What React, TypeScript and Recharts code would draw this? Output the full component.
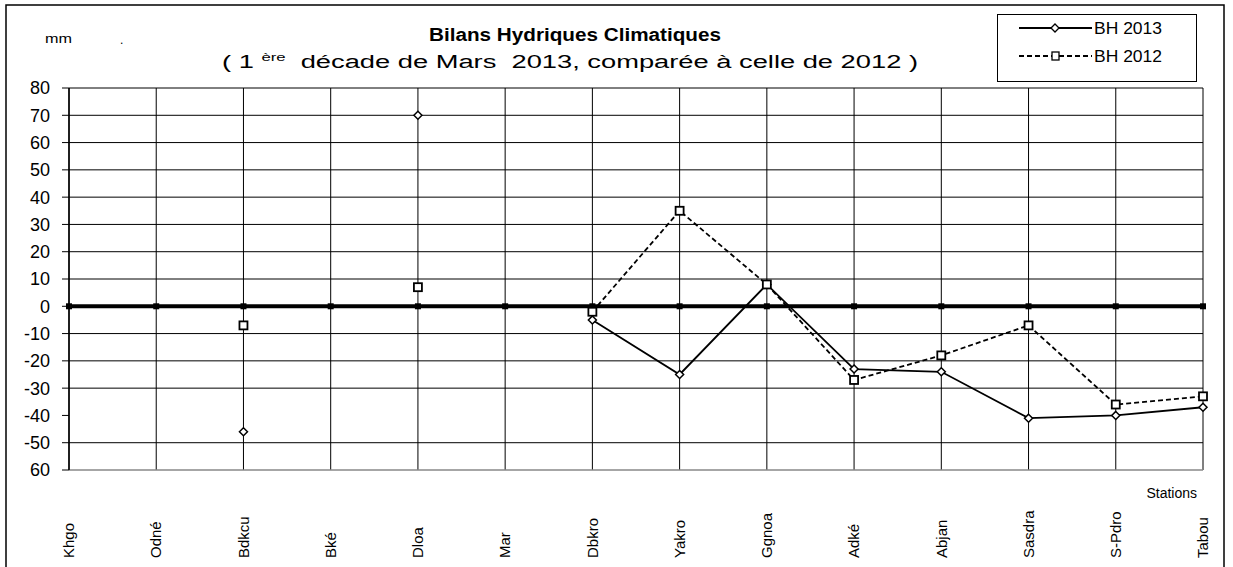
import React from "react";
import {
  LineChart,
  Line,
  XAxis,
  YAxis,
  CartesianGrid,
  Legend,
} from "recharts";

// stations (as printed on the chart)
const stations = [
  "Khgo", "Odné", "Bdkcu", "Bké", "Dloa", "Mar", "Dbkro",
  "Yakro", "Ggnoa", "Adké", "Abjan", "Sasdra", "S-Pdro", "Tabou",
];
// water balance, mm
const bh2013 = [null, null, -46, null, 70, null, -5, -25, 8, -23, -24, -41, -40, -37];
const bh2012 = [null, null, -7, null, 7, null, -2, 35, 8, -27, -18, -7, -36, -33];
const zeroLine = [0, 0, 0, 0, 0, 0, 0, 0, 0, 0, 0, 0, 0, 0];

const yTicks = [80, 70, 60, 50, 40, 30, 20, 10, 0, -10, -20, -30, -40, -50, -60];
const gridValues = [80, 70, 60, 50, 40, 30, 20, 10, -10, -20, -30, -50];

const data = stations.map((name, i) => ({
  name,
  bh2013: bh2013[i],
  bh2012: bh2012[i],
  zero: zeroLine[i],
}));

const FONT = "'Liberation Sans', Arial, sans-serif";

const diamondDot = (p: any) => {
  const { cx, cy, index, value } = p;
  if (value == null || cy == null) return <g key={index} />;
  return (
    <polygon
      key={index}
      points={`${cx},${cy - 4} ${cx + 4},${cy} ${cx},${cy + 4} ${cx - 4},${cy}`}
      fill="#fff"
      stroke="#000"
      strokeWidth={1.5}
    />
  );
};

const squareDot = (p: any) => {
  const { cx, cy, index, value } = p;
  if (value == null || cy == null) return <g key={index} />;
  return (
    <rect key={index} x={cx - 4} y={cy - 4} width={8} height={8} fill="#fff" stroke="#000" strokeWidth={1.8} />
  );
};

const zeroDot = (p: any) => {
  const { cx, cy, index } = p;
  return <rect key={index} x={cx - 3} y={cy - 3} width={6} height={6} fill="#000" />;
};

const StationTick = (p: any) => {
  const { x, payload } = p;
  const y0 = 558;
  return (
    <text
      x={x}
      y={y0}
      dy="0.35em"
      transform={`rotate(-90 ${x} ${y0})`}
      textAnchor="start"
      fontSize={15}
      fontFamily={FONT}
      fill="#000"
    >
      {payload.value}
    </text>
  );
};

const LegendBox = () => (
  <svg width={200} height={68} style={{ display: "block" }}>
    <rect x={0.5} y={0.5} width={199} height={67} fill="#fff" stroke="#000" />
    <line x1={22} y1={14} x2={95} y2={14} stroke="#000" strokeWidth={2.2} />
    <polygon points="58,10 62,14 58,18 54,14" fill="#fff" stroke="#000" strokeWidth={1.3} />
    <text x={97} y={20} fontSize={16} fontFamily={FONT} textLength={68} lengthAdjust="spacingAndGlyphs">BH 2013</text>
    <line x1={22} y1={42} x2={95} y2={42} stroke="#000" strokeWidth={2.2} strokeDasharray="5 3" />
    <rect x={55} y={38} width={7} height={8} fill="#fff" stroke="#000" strokeWidth={1.3} />
    <text x={97} y={48} fontSize={16} fontFamily={FONT} textLength={68} lengthAdjust="spacingAndGlyphs">BH 2012</text>
  </svg>
);

export default function App() {
  return (
    <div style={{ position: "absolute", left: 0, top: 0, width: 1233, height: 567, background: "#fff" }}>
      <LineChart
        width={1233}
        height={567}
        data={data}
        margin={{ top: 88, right: 30, bottom: 7, left: 9 }}
      >
        <CartesianGrid stroke="#000" strokeWidth={1} horizontalValues={gridValues} />
        <XAxis
          dataKey="name"
          height={90}
          interval={0}
          tick={<StationTick />}
          tickLine={false}
          axisLine={{ stroke: "#888", strokeWidth: 1.5 }}
        />
        <YAxis
          domain={[-60, 80]}
          ticks={yTicks}
          interval={0}
          width={60}
          tickSize={7}
          tickMargin={12}
          tickLine={{ stroke: "#000" }}
          axisLine={{ stroke: "#000", strokeWidth: 1.5 }}
          tickFormatter={(v: number) => (v === -60 ? "60" : String(v))}
          tick={{ fontSize: 18, fontFamily: FONT, fill: "#000" }}
        />
        <Legend
          layout="horizontal"
          verticalAlign="middle"
          align="center"
          wrapperStyle={{ top: 14, left: 997, width: 200, height: 68 }}
          content={<LegendBox />}
        />
        <Line
          dataKey="zero"
          stroke="#000"
          strokeWidth={4}
          dot={zeroDot}
          activeDot={false}
          legendType="none"
          isAnimationActive={false}
        />
        <Line
          dataKey="bh2013"
          name="BH 2013"
          stroke="#000"
          strokeWidth={1.8}
          dot={diamondDot}
          activeDot={false}
          connectNulls={false}
          isAnimationActive={false}
        />
        <Line
          dataKey="bh2012"
          name="BH 2012"
          stroke="#000"
          strokeWidth={1.8}
          strokeDasharray="5 3"
          dot={squareDot}
          activeDot={false}
          connectNulls={false}
          isAnimationActive={false}
        />
      </LineChart>
      <svg
        width={1233}
        height={567}
        style={{ position: "absolute", left: 0, top: 0, pointerEvents: "none" }}
      >
        <rect x={6} y={5} width={1218} height={575} fill="none" stroke="#000" strokeWidth={1.5} />
        <text x={45} y={43} fontSize={13} fontFamily={FONT} textLength={27} lengthAdjust="spacingAndGlyphs">mm</text>
        <text x={120} y={44} fontSize={12} fontFamily={FONT}>.</text>
        <text
          x={429}
          y={41}
          fontSize={18}
          fontWeight="bold"
          fontFamily={FONT}
          textLength={292}
          lengthAdjust="spacingAndGlyphs"
        >
          Bilans Hydriques Climatiques
        </text>
        <text
          x={222}
          y={68}
          fontSize={18}
          fontFamily={FONT}
          textLength={696}
          lengthAdjust="spacingAndGlyphs"
          style={{ whiteSpace: "pre" }}
        >
          {"( 1 "}
          <tspan fontSize={11} dy={-7}>ère</tspan>
          <tspan dy={7}>{"  décade de Mars  2013, comparée à celle de 2012 )"}</tspan>
        </text>
        <text
          x={1197}
          y={498}
          textAnchor="end"
          fontSize={14}
          fontFamily="'Liberation Sans Narrow', 'Liberation Sans', sans-serif"
        >
          Stations
        </text>
      </svg>
    </div>
  );
}
